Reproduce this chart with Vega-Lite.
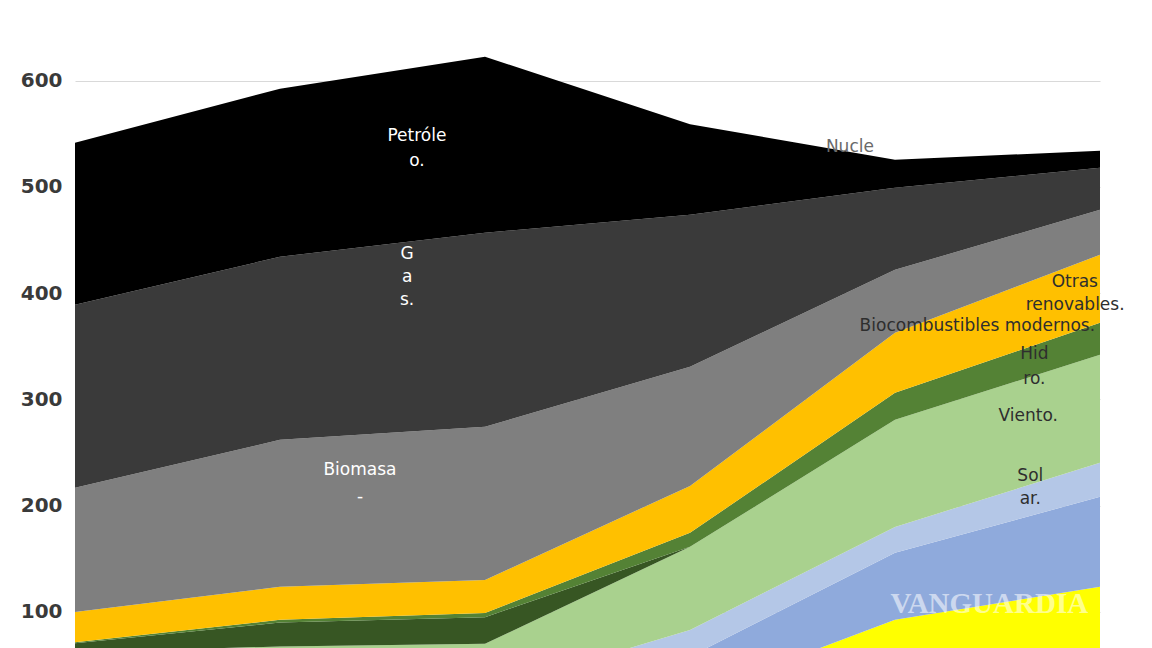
{
  "$schema": "https://vega.github.io/schema/vega-lite/v6.json",
  "width": 1025,
  "height": 648,
  "autosize": {"type": "none"},
  "padding": {"left": 75, "top": 0, "right": 52, "bottom": 0},
  "background": "white",
  "config": {"view": {"stroke": null}},
  "datasets": {
    "energia": [
      {"anio": 2000, "fuente": "Carbón", "orden": 1, "valor": 40},
      {"anio": 2010, "fuente": "Carbón", "orden": 1, "valor": 40},
      {"anio": 2020, "fuente": "Carbón", "orden": 1, "valor": 20},
      {"anio": 2030, "fuente": "Carbón", "orden": 1, "valor": 10},
      {"anio": 2040, "fuente": "Carbón", "orden": 1, "valor": 10},
      {"anio": 2050, "fuente": "Carbón", "orden": 1, "valor": 10},
      {"anio": 2000, "fuente": "Nuclear", "orden": 2, "valor": 0},
      {"anio": 2010, "fuente": "Nuclear", "orden": 2, "valor": 0},
      {"anio": 2020, "fuente": "Nuclear", "orden": 2, "valor": 0},
      {"anio": 2030, "fuente": "Nuclear", "orden": 2, "valor": 10},
      {"anio": 2040, "fuente": "Nuclear", "orden": 2, "valor": 82.5},
      {"anio": 2050, "fuente": "Nuclear", "orden": 2, "valor": 113.6},
      {"anio": 2000, "fuente": "Otras", "orden": 3, "valor": 0},
      {"anio": 2010, "fuente": "Otras", "orden": 3, "valor": 0},
      {"anio": 2020, "fuente": "Otras", "orden": 3, "valor": 0},
      {"anio": 2030, "fuente": "Otras", "orden": 3, "valor": 38},
      {"anio": 2040, "fuente": "Otras", "orden": 3, "valor": 63.1},
      {"anio": 2050, "fuente": "Otras", "orden": 3, "valor": 84.7},
      {"anio": 2000, "fuente": "Solar", "orden": 4, "valor": 0},
      {"anio": 2010, "fuente": "Solar", "orden": 4, "valor": 0},
      {"anio": 2020, "fuente": "Solar", "orden": 4, "valor": 5},
      {"anio": 2030, "fuente": "Solar", "orden": 4, "valor": 25},
      {"anio": 2040, "fuente": "Solar", "orden": 4, "valor": 24.4},
      {"anio": 2050, "fuente": "Solar", "orden": 4, "valor": 32},
      {"anio": 2000, "fuente": "Viento", "orden": 5, "valor": 22},
      {"anio": 2010, "fuente": "Viento", "orden": 5, "valor": 27.5},
      {"anio": 2020, "fuente": "Viento", "orden": 5, "valor": 45},
      {"anio": 2030, "fuente": "Viento", "orden": 5, "valor": 78.2},
      {"anio": 2040, "fuente": "Viento", "orden": 5, "valor": 100.8},
      {"anio": 2050, "fuente": "Viento", "orden": 5, "valor": 101.7},
      {"anio": 2000, "fuente": "Biocombustibles modernos", "orden": 6, "valor": 8.5},
      {"anio": 2010, "fuente": "Biocombustibles modernos", "orden": 6, "valor": 22.5},
      {"anio": 2020, "fuente": "Biocombustibles modernos", "orden": 6, "valor": 25},
      {"anio": 2030, "fuente": "Biocombustibles modernos", "orden": 6, "valor": 0},
      {"anio": 2040, "fuente": "Biocombustibles modernos", "orden": 6, "valor": 0},
      {"anio": 2050, "fuente": "Biocombustibles modernos", "orden": 6, "valor": 0},
      {"anio": 2000, "fuente": "Hidro", "orden": 7, "valor": 1},
      {"anio": 2010, "fuente": "Hidro", "orden": 7, "valor": 2.5},
      {"anio": 2020, "fuente": "Hidro", "orden": 7, "valor": 4},
      {"anio": 2030, "fuente": "Hidro", "orden": 7, "valor": 13.2},
      {"anio": 2040, "fuente": "Hidro", "orden": 7, "valor": 25.4},
      {"anio": 2050, "fuente": "Hidro", "orden": 7, "valor": 30.1},
      {"anio": 2000, "fuente": "Otras renovables", "orden": 8, "valor": 28.5},
      {"anio": 2010, "fuente": "Otras renovables", "orden": 8, "valor": 31.1},
      {"anio": 2020, "fuente": "Otras renovables", "orden": 8, "valor": 31},
      {"anio": 2030, "fuente": "Otras renovables", "orden": 8, "valor": 44.2},
      {"anio": 2040, "fuente": "Otras renovables", "orden": 8, "valor": 56.5},
      {"anio": 2050, "fuente": "Otras renovables", "orden": 8, "valor": 64.1},
      {"anio": 2000, "fuente": "Biomasa", "orden": 9, "valor": 116.8},
      {"anio": 2010, "fuente": "Biomasa", "orden": 9, "valor": 138.4},
      {"anio": 2020, "fuente": "Biomasa", "orden": 9, "valor": 144.2},
      {"anio": 2030, "fuente": "Biomasa", "orden": 9, "valor": 112.1},
      {"anio": 2040, "fuente": "Biomasa", "orden": 9, "valor": 59.3},
      {"anio": 2050, "fuente": "Biomasa", "orden": 9, "valor": 42.3},
      {"anio": 2000, "fuente": "Gas", "orden": 10, "valor": 172.3},
      {"anio": 2010, "fuente": "Gas", "orden": 10, "valor": 172.3},
      {"anio": 2020, "fuente": "Gas", "orden": 10, "valor": 182.8},
      {"anio": 2030, "fuente": "Gas", "orden": 10, "valor": 143.1},
      {"anio": 2040, "fuente": "Gas", "orden": 10, "valor": 77.2},
      {"anio": 2050, "fuente": "Gas", "orden": 10, "valor": 39.6},
      {"anio": 2000, "fuente": "Petróleo", "orden": 11, "valor": 152.5},
      {"anio": 2010, "fuente": "Petróleo", "orden": 11, "valor": 158.2},
      {"anio": 2020, "fuente": "Petróleo", "orden": 11, "valor": 165.6},
      {"anio": 2030, "fuente": "Petróleo", "orden": 11, "valor": 85.2},
      {"anio": 2040, "fuente": "Petróleo", "orden": 11, "valor": 26.4},
      {"anio": 2050, "fuente": "Petróleo", "orden": 11, "valor": 16}
    ],
    "etiquetasBlancas": [
      {"anio": 2016.68, "valor": 548.2, "texto": "Petróle"},
      {"anio": 2016.68, "valor": 524.7, "texto": "o."},
      {"anio": 2016.2, "valor": 437.1, "texto": "G"},
      {"anio": 2016.2, "valor": 415.4, "texto": "a"},
      {"anio": 2016.2, "valor": 393.8, "texto": "s."},
      {"anio": 2013.9, "valor": 233.7, "texto": "Biomasa"},
      {"anio": 2013.9, "valor": 208.5, "texto": "-"}
    ],
    "etiquetasOscuras": [
      {"anio": 2046.8, "valor": 342.9, "texto": "Hid"},
      {"anio": 2046.8, "valor": 319.4, "texto": "ro."},
      {"anio": 2046.5, "valor": 284.6, "texto": "Viento."},
      {"anio": 2046.6, "valor": 228.1, "texto": "Sol"},
      {"anio": 2046.6, "valor": 206.4, "texto": "ar."}
    ],
    "etiquetasDerecha": [
      {"anio": 2049.9, "valor": 410.7, "texto": "Otras"},
      {"anio": 2051.2, "valor": 389.1, "texto": "renovables."},
      {"anio": 2049.76, "valor": 369.3, "texto": "Biocombustibles modernos."}
    ],
    "etiquetaGris": [
      {"anio": 2037.8, "valor": 537.9, "texto": "Nucle"}
    ],
    "marca": [
      {"anio": 2044.6, "valor": 107.5, "texto": "VANGUARDIA"}
    ]
  },
  "layer": [
    {
      "data": {"name": "energia"},
      "mark": {"type": "area", "clip": true, "interpolate": "linear"},
      "encoding": {
        "x": {"field": "anio", "type": "quantitative", "scale": {"domain": [2000, 2050], "nice": false, "zero": false}, "axis": null},
        "y": {
          "field": "valor", "type": "quantitative", "stack": "zero",
          "scale": {"domain": [66, 676], "nice": false, "zero": false},
          "axis": {"values": [100, 200, 300, 400, 500, 600], "grid": true, "gridColor": "#d9d9d9", "gridWidth": 1.2, "domain": false, "ticks": false, "labelFont": "DejaVu Sans", "labelFontWeight": "bold", "labelFontSize": 20, "labelColor": "#3a3a3a", "labelPadding": 13, "title": null}
        },
        "color": {
          "field": "fuente", "type": "nominal", "legend": null,
          "scale": {
            "domain": ["Carbón", "Nuclear", "Otras", "Solar", "Viento", "Biocombustibles modernos", "Hidro", "Otras renovables", "Biomasa", "Gas", "Petróleo"],
            "range": ["#ffffff", "#ffff00", "#8faadc", "#b4c7e7", "#a9d18e", "#375623", "#548235", "#ffc000", "#7f7f7f", "#3a3a3a", "#000000"]
          }
        },
        "order": {"field": "orden", "type": "quantitative"}
      }
    },
    {
      "data": {"name": "etiquetasBlancas"},
      "mark": {"type": "text", "font": "DejaVu Sans", "fontSize": 17, "color": "#ffffff", "align": "center", "baseline": "middle"},
      "encoding": {
        "x": {"field": "anio", "type": "quantitative"},
        "y": {"field": "valor", "type": "quantitative", "stack": null},
        "text": {"field": "texto"}
      }
    },
    {
      "data": {"name": "etiquetasOscuras"},
      "mark": {"type": "text", "font": "DejaVu Sans", "fontSize": 17, "color": "#2e2e2e", "align": "center", "baseline": "middle"},
      "encoding": {
        "x": {"field": "anio", "type": "quantitative"},
        "y": {"field": "valor", "type": "quantitative", "stack": null},
        "text": {"field": "texto"}
      }
    },
    {
      "data": {"name": "etiquetasDerecha"},
      "mark": {"type": "text", "font": "DejaVu Sans", "fontSize": 17, "color": "#2e2e2e", "align": "right", "baseline": "middle"},
      "encoding": {
        "x": {"field": "anio", "type": "quantitative"},
        "y": {"field": "valor", "type": "quantitative", "stack": null},
        "text": {"field": "texto"}
      }
    },
    {
      "data": {"name": "etiquetaGris"},
      "mark": {"type": "text", "font": "DejaVu Sans", "fontSize": 17, "color": "#6a6a6a", "align": "center", "baseline": "middle"},
      "encoding": {
        "x": {"field": "anio", "type": "quantitative"},
        "y": {"field": "valor", "type": "quantitative", "stack": null},
        "text": {"field": "texto"}
      }
    },
    {
      "data": {"name": "marca"},
      "mark": {"type": "text", "font": "Liberation Serif", "fontWeight": "bold", "fontSize": 29, "color": "#ffffff", "opacity": 0.55, "align": "center", "baseline": "middle"},
      "encoding": {
        "x": {"field": "anio", "type": "quantitative"},
        "y": {"field": "valor", "type": "quantitative", "stack": null},
        "text": {"field": "texto"}
      }
    }
  ]
}
